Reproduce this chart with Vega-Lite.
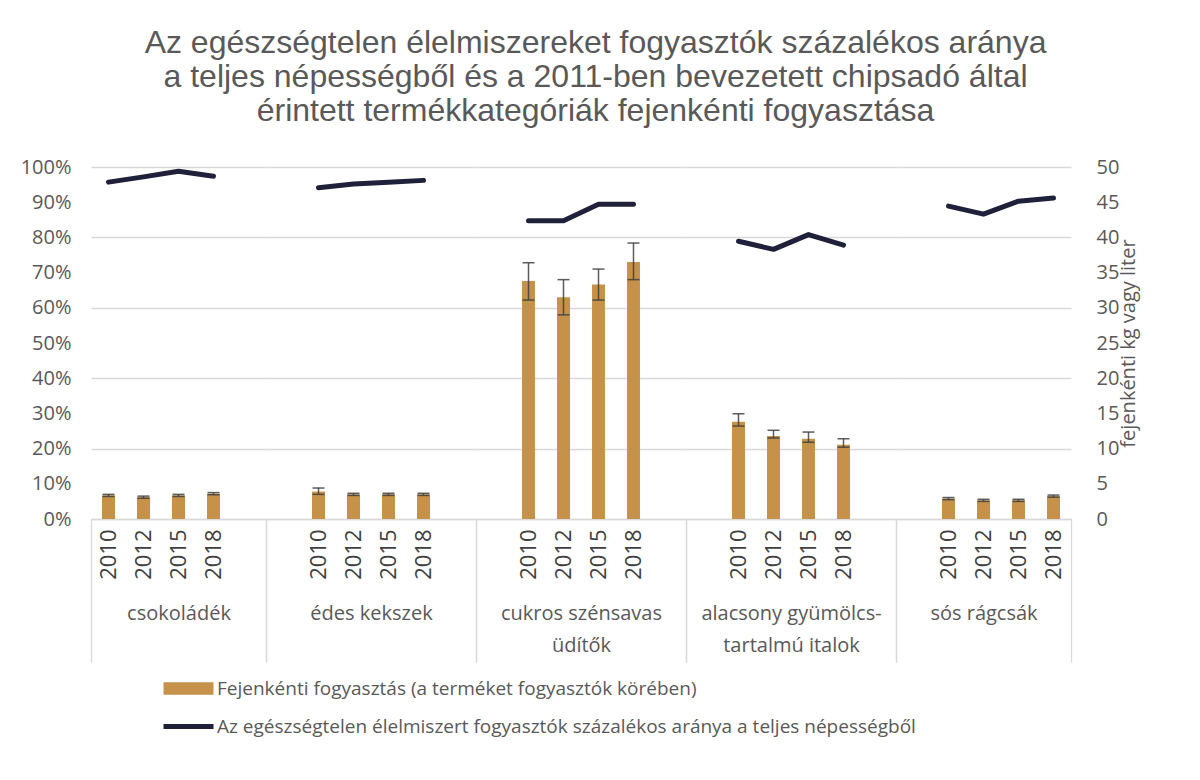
{
  "$schema": "https://vega.github.io/schema/vega-lite/v6.json",
  "background": "white",
  "padding": {"left": 20, "top": 27, "right": 10, "bottom": 10},
  "title": {
    "text": ["Az egészségtelen élelmiszereket fogyasztók százalékos aránya", "a teljes népességből és a 2011-ben bevezetett chipsadó által", "érintett termékkategóriák fejenkénti fogyasztása"],
    "font": "Liberation Sans", "fontSize": 32, "fontWeight": "normal", "color": "#595959", "lineHeight": 34, "anchor": "middle", "offset": 29, "dx": 16
  },
  "data": {"values": [
    {"group": "csokoládék", "year": "2010", "kg": 3.35, "lo": 3.2, "hi": 3.5, "pct": 0.957},
    {"group": "csokoládék", "year": "2012", "kg": 3.1, "lo": 2.95, "hi": 3.25, "pct": 0.972},
    {"group": "csokoládék", "year": "2015", "kg": 3.35, "lo": 3.2, "hi": 3.5, "pct": 0.988},
    {"group": "csokoládék", "year": "2018", "kg": 3.6, "lo": 3.45, "hi": 3.75, "pct": 0.974},
    {"group": "édes kekszek", "year": "2010", "kg": 3.9, "lo": 3.5, "hi": 4.4, "pct": 0.941},
    {"group": "édes kekszek", "year": "2012", "kg": 3.5, "lo": 3.35, "hi": 3.65, "pct": 0.952},
    {"group": "édes kekszek", "year": "2015", "kg": 3.5, "lo": 3.35, "hi": 3.65, "pct": 0.957},
    {"group": "édes kekszek", "year": "2018", "kg": 3.5, "lo": 3.35, "hi": 3.65, "pct": 0.962},
    {"group": "cukros szénsavas üdítők", "year": "2010", "kg": 33.8, "lo": 31.1, "hi": 36.4, "pct": 0.847},
    {"group": "cukros szénsavas üdítők", "year": "2012", "kg": 31.5, "lo": 29.0, "hi": 34.0, "pct": 0.847},
    {"group": "cukros szénsavas üdítők", "year": "2015", "kg": 33.3, "lo": 31.1, "hi": 35.5, "pct": 0.894},
    {"group": "cukros szénsavas üdítők", "year": "2018", "kg": 36.5, "lo": 34.0, "hi": 39.2, "pct": 0.894},
    {"group": "alacsony gyümölcstartalmú italok", "year": "2010", "kg": 13.8, "lo": 13.2, "hi": 14.95, "pct": 0.789},
    {"group": "alacsony gyümölcstartalmú italok", "year": "2012", "kg": 11.8, "lo": 11.5, "hi": 12.6, "pct": 0.766},
    {"group": "alacsony gyümölcstartalmú italok", "year": "2015", "kg": 11.4, "lo": 10.9, "hi": 12.35, "pct": 0.808},
    {"group": "alacsony gyümölcstartalmú italok", "year": "2018", "kg": 10.55, "lo": 10.2, "hi": 11.4, "pct": 0.778},
    {"group": "sós rágcsák", "year": "2010", "kg": 2.9, "lo": 2.75, "hi": 3.05, "pct": 0.889},
    {"group": "sós rágcsák", "year": "2012", "kg": 2.65, "lo": 2.5, "hi": 2.8, "pct": 0.866},
    {"group": "sós rágcsák", "year": "2015", "kg": 2.65, "lo": 2.5, "hi": 2.8, "pct": 0.903},
    {"group": "sós rágcsák", "year": "2018", "kg": 3.25, "lo": 3.1, "hi": 3.4, "pct": 0.912}
  ]},
  "spacing": 0,
  "bounds": "flush",
  "hconcat": [
    {
      "width": 175, "height": 352,
      "transform": [{"filter": "datum.group === 'csokoládék'"}],
      "encoding": {"x": {"field": "year", "type": "nominal", "scale": {"domain": ["2010", "2012", "2015", "2018", "b"], "paddingInner": 0, "paddingOuter": 0},
        "axis": {"title": "csokoládék", "labelExpr": "indexof(['a','b'], datum.value) >= 0 ? '' : datum.label", "labelAngle": 270, "labelAlign": "right", "labelBaseline": "middle", "labelPadding": -133, "labelFontSize": 22, "labelColor": "#404040", "tickBand": "extent", "tickSize": 143, "tickColor": "#D9D9D9", "tickWidth": 1.3, "tickOpacity": {"condition": {"test": "datum.extra || datum.value === 'b'", "value": 1}, "value": 0}, "domainColor": "#D9D9D9", "domainWidth": 1.3, "titleY": 84, "titleBaseline": "top", "titleFontSize": 20, "titleFontWeight": "normal", "titleColor": "#595959", "titleLineHeight": 32}}},
      "layer": [
        {"layer": [
          {"mark": {"type": "bar", "width": {"band": 0.37}}, "encoding": {"y": {"field": "kg", "type": "quantitative", "scale": {"domain": [0, 50], "nice": false}, "axis": {"orient": "right", "labels": false, "ticks": false, "domain": false, "title": null, "grid": true, "gridColor": "#D9D9D9", "gridWidth": 1.3, "values": [0, 5, 10, 15, 20, 25, 30, 35, 40, 45, 50]}},
            "color": {"datum": "Fejenkénti fogyasztás (a terméket fogyasztók körében)", "type": "nominal",
              "scale": {"domain": ["Fejenkénti fogyasztás (a terméket fogyasztók körében)", "Az egészségtelen élelmiszert fogyasztók százalékos aránya a teljes népességből"], "range": ["#C69149", "#1E2139"]},
              "legend": {"orient": "none", "legendX": 85, "legendY": 509, "direction": "vertical", "title": null, "padding": 0, "labelFont": "Open Sans", "labelFontSize": 19, "labelColor": "#595959", "labelLimit": 1200, "symbolSize": 625, "rowPadding": 15, "labelOffset": 16,
                "encode": {"symbols": {"update": {"shape": {"signal": "indexof(datum.value, 'Fejen') === 0 ? 'M-2,-0.5H2V0.5H-2Z' : 'M-2,-0.2H2V0.2H-2Z'"}, "fill": {"signal": "indexof(datum.value, 'Fejen') === 0 ? '#C69149' : '#1E2139'"}, "stroke": {"value": "transparent"}, "strokeWidth": {"value": 0}, "opacity": {"value": 1}}}}}}}},
          {"mark": {"type": "rule", "color": "#404040", "strokeWidth": 1.5, "opacity": 0.85}, "encoding": {"y": {"field": "lo", "type": "quantitative"}, "y2": {"field": "hi"}}},
          {"mark": {"type": "tick", "color": "#404040", "thickness": 1.5, "size": 12, "opacity": 0.85}, "encoding": {"y": {"field": "lo", "type": "quantitative"}}},
          {"mark": {"type": "tick", "color": "#404040", "thickness": 1.5, "size": 12, "opacity": 0.85}, "encoding": {"y": {"field": "hi", "type": "quantitative"}}}
        ]},
        {"mark": {"type": "line", "strokeWidth": 5, "strokeCap": "round", "strokeJoin": "round"},
          "encoding": {"y": {"field": "pct", "type": "quantitative", "scale": {"domain": [0, 1], "nice": false}, "axis": {"orient": "left", "format": ".0%", "values": [0, 0.1, 0.2, 0.3, 0.4, 0.5, 0.6, 0.7, 0.8, 0.9, 1], "grid": false, "ticks": false, "domain": false, "labelFontSize": 20, "labelColor": "#595959", "labelPadding": 20, "title": null}},
            "color": {"datum": "Az egészségtelen élelmiszert fogyasztók százalékos aránya a teljes népességből", "type": "nominal"}}}
      ],
      "resolve": {"scale": {"y": "independent"}}
    },
    {
      "width": 210, "height": 352,
      "transform": [{"filter": "datum.group === 'édes kekszek'"}],
      "encoding": {"x": {"field": "year", "type": "nominal", "scale": {"domain": ["a", "2010", "2012", "2015", "2018", "b"], "paddingInner": 0, "paddingOuter": 0},
        "axis": {"title": "édes kekszek", "labelExpr": "indexof(['a','b'], datum.value) >= 0 ? '' : datum.label", "labelAngle": 270, "labelAlign": "right", "labelBaseline": "middle", "labelPadding": -133, "labelFontSize": 22, "labelColor": "#404040", "tickBand": "extent", "tickSize": 143, "tickColor": "#D9D9D9", "tickWidth": 1.3, "tickOpacity": {"condition": {"test": "datum.extra || datum.value === 'b'", "value": 1}, "value": 0}, "domainColor": "#D9D9D9", "domainWidth": 1.3, "titleY": 84, "titleBaseline": "top", "titleFontSize": 20, "titleFontWeight": "normal", "titleColor": "#595959", "titleLineHeight": 32}}},
      "layer": [
        {"layer": [
          {"mark": {"type": "bar", "color": "#C69149", "width": {"band": 0.37}}, "encoding": {"y": {"field": "kg", "type": "quantitative", "scale": {"domain": [0, 50], "nice": false}, "axis": {"orient": "right", "labels": false, "ticks": false, "domain": false, "title": null, "grid": true, "gridColor": "#D9D9D9", "gridWidth": 1.3, "values": [0, 5, 10, 15, 20, 25, 30, 35, 40, 45, 50]}}}},
          {"mark": {"type": "rule", "color": "#404040", "strokeWidth": 1.5, "opacity": 0.85}, "encoding": {"y": {"field": "lo", "type": "quantitative"}, "y2": {"field": "hi"}}},
          {"mark": {"type": "tick", "color": "#404040", "thickness": 1.5, "size": 12, "opacity": 0.85}, "encoding": {"y": {"field": "lo", "type": "quantitative"}}},
          {"mark": {"type": "tick", "color": "#404040", "thickness": 1.5, "size": 12, "opacity": 0.85}, "encoding": {"y": {"field": "hi", "type": "quantitative"}}}
        ]},
        {"mark": {"type": "line", "color": "#1E2139", "strokeWidth": 5, "strokeCap": "round", "strokeJoin": "round"},
          "encoding": {"y": {"field": "pct", "type": "quantitative", "scale": {"domain": [0, 1], "nice": false}, "axis": null}}}
      ],
      "resolve": {"scale": {"y": "independent"}}
    },
    {
      "width": 210, "height": 352,
      "transform": [{"filter": "datum.group === 'cukros szénsavas üdítők'"}],
      "encoding": {"x": {"field": "year", "type": "nominal", "scale": {"domain": ["a", "2010", "2012", "2015", "2018", "b"], "paddingInner": 0, "paddingOuter": 0},
        "axis": {"title": ["cukros szénsavas", "üdítők"], "labelExpr": "indexof(['a','b'], datum.value) >= 0 ? '' : datum.label", "labelAngle": 270, "labelAlign": "right", "labelBaseline": "middle", "labelPadding": -133, "labelFontSize": 22, "labelColor": "#404040", "tickBand": "extent", "tickSize": 143, "tickColor": "#D9D9D9", "tickWidth": 1.3, "tickOpacity": {"condition": {"test": "datum.extra || datum.value === 'b'", "value": 1}, "value": 0}, "domainColor": "#D9D9D9", "domainWidth": 1.3, "titleY": 84, "titleBaseline": "top", "titleFontSize": 20, "titleFontWeight": "normal", "titleColor": "#595959", "titleLineHeight": 32}}},
      "layer": [
        {"layer": [
          {"mark": {"type": "bar", "color": "#C69149", "width": {"band": 0.37}}, "encoding": {"y": {"field": "kg", "type": "quantitative", "scale": {"domain": [0, 50], "nice": false}, "axis": {"orient": "right", "labels": false, "ticks": false, "domain": false, "title": null, "grid": true, "gridColor": "#D9D9D9", "gridWidth": 1.3, "values": [0, 5, 10, 15, 20, 25, 30, 35, 40, 45, 50]}}}},
          {"mark": {"type": "rule", "color": "#404040", "strokeWidth": 1.5, "opacity": 0.85}, "encoding": {"y": {"field": "lo", "type": "quantitative"}, "y2": {"field": "hi"}}},
          {"mark": {"type": "tick", "color": "#404040", "thickness": 1.5, "size": 12, "opacity": 0.85}, "encoding": {"y": {"field": "lo", "type": "quantitative"}}},
          {"mark": {"type": "tick", "color": "#404040", "thickness": 1.5, "size": 12, "opacity": 0.85}, "encoding": {"y": {"field": "hi", "type": "quantitative"}}}
        ]},
        {"mark": {"type": "line", "color": "#1E2139", "strokeWidth": 5, "strokeCap": "round", "strokeJoin": "round"},
          "encoding": {"y": {"field": "pct", "type": "quantitative", "scale": {"domain": [0, 1], "nice": false}, "axis": null}}}
      ],
      "resolve": {"scale": {"y": "independent"}}
    },
    {
      "width": 210, "height": 352,
      "transform": [{"filter": "datum.group === 'alacsony gyümölcstartalmú italok'"}],
      "encoding": {"x": {"field": "year", "type": "nominal", "scale": {"domain": ["a", "2010", "2012", "2015", "2018", "b"], "paddingInner": 0, "paddingOuter": 0},
        "axis": {"title": ["alacsony gyümölcs-", "tartalmú italok"], "labelExpr": "indexof(['a','b'], datum.value) >= 0 ? '' : datum.label", "labelAngle": 270, "labelAlign": "right", "labelBaseline": "middle", "labelPadding": -133, "labelFontSize": 22, "labelColor": "#404040", "tickBand": "extent", "tickSize": 143, "tickColor": "#D9D9D9", "tickWidth": 1.3, "tickOpacity": {"condition": {"test": "datum.extra || datum.value === 'b'", "value": 1}, "value": 0}, "domainColor": "#D9D9D9", "domainWidth": 1.3, "titleY": 84, "titleBaseline": "top", "titleFontSize": 20, "titleFontWeight": "normal", "titleColor": "#595959", "titleLineHeight": 32}}},
      "layer": [
        {"layer": [
          {"mark": {"type": "bar", "color": "#C69149", "width": {"band": 0.37}}, "encoding": {"y": {"field": "kg", "type": "quantitative", "scale": {"domain": [0, 50], "nice": false}, "axis": {"orient": "right", "labels": false, "ticks": false, "domain": false, "title": null, "grid": true, "gridColor": "#D9D9D9", "gridWidth": 1.3, "values": [0, 5, 10, 15, 20, 25, 30, 35, 40, 45, 50]}}}},
          {"mark": {"type": "rule", "color": "#404040", "strokeWidth": 1.5, "opacity": 0.85}, "encoding": {"y": {"field": "lo", "type": "quantitative"}, "y2": {"field": "hi"}}},
          {"mark": {"type": "tick", "color": "#404040", "thickness": 1.5, "size": 12, "opacity": 0.85}, "encoding": {"y": {"field": "lo", "type": "quantitative"}}},
          {"mark": {"type": "tick", "color": "#404040", "thickness": 1.5, "size": 12, "opacity": 0.85}, "encoding": {"y": {"field": "hi", "type": "quantitative"}}}
        ]},
        {"mark": {"type": "line", "color": "#1E2139", "strokeWidth": 5, "strokeCap": "round", "strokeJoin": "round"},
          "encoding": {"y": {"field": "pct", "type": "quantitative", "scale": {"domain": [0, 1], "nice": false}, "axis": null}}}
      ],
      "resolve": {"scale": {"y": "independent"}}
    },
    {
      "width": 175, "height": 352,
      "transform": [{"filter": "datum.group === 'sós rágcsák'"}],
      "encoding": {"x": {"field": "year", "type": "nominal", "scale": {"domain": ["a", "2010", "2012", "2015", "2018"], "paddingInner": 0, "paddingOuter": 0},
        "axis": {"title": "sós rágcsák", "labelExpr": "indexof(['a','b'], datum.value) >= 0 ? '' : datum.label", "labelAngle": 270, "labelAlign": "right", "labelBaseline": "middle", "labelPadding": -133, "labelFontSize": 22, "labelColor": "#404040", "tickBand": "extent", "tickSize": 143, "tickColor": "#D9D9D9", "tickWidth": 1.3, "tickOpacity": {"condition": {"test": "datum.extra || datum.value === '2018'", "value": 1}, "value": 0}, "domainColor": "#D9D9D9", "domainWidth": 1.3, "titleY": 84, "titleBaseline": "top", "titleFontSize": 20, "titleFontWeight": "normal", "titleColor": "#595959", "titleLineHeight": 32}}},
      "layer": [
        {"layer": [
          {"mark": {"type": "bar", "color": "#C69149", "width": {"band": 0.37}}, "encoding": {"y": {"field": "kg", "type": "quantitative", "scale": {"domain": [0, 50], "nice": false}, "axis": {"orient": "left", "labels": false, "ticks": false, "domain": false, "title": null, "grid": true, "gridColor": "#D9D9D9", "gridWidth": 1.3, "values": [0, 5, 10, 15, 20, 25, 30, 35, 40, 45, 50]}}}},
          {"mark": {"type": "rule", "color": "#404040", "strokeWidth": 1.5, "opacity": 0.85}, "encoding": {"y": {"field": "lo", "type": "quantitative"}, "y2": {"field": "hi"}}},
          {"mark": {"type": "tick", "color": "#404040", "thickness": 1.5, "size": 12, "opacity": 0.85}, "encoding": {"y": {"field": "lo", "type": "quantitative"}}},
          {"mark": {"type": "tick", "color": "#404040", "thickness": 1.5, "size": 12, "opacity": 0.85}, "encoding": {"y": {"field": "hi", "type": "quantitative"}}}
        ]},
        {"mark": {"type": "line", "color": "#1E2139", "strokeWidth": 5, "strokeCap": "round", "strokeJoin": "round"},
          "encoding": {"y": {"field": "pct", "type": "quantitative", "scale": {"domain": [0, 1], "nice": false}, "axis": {"orient": "right", "values": [0, 0.1, 0.2, 0.3, 0.4, 0.5, 0.6, 0.7, 0.8, 0.9, 1], "labelExpr": "format(datum.value * 50, 'd')", "labelOverlap": false, "grid": false, "ticks": false, "domain": false, "labelFontSize": 20, "labelColor": "#595959", "labelPadding": 25, "title": "fejenkénti kg vagy liter", "titleAngle": 270, "titleFontSize": 20, "titleFontWeight": "normal", "titleColor": "#595959", "titlePadding": 20}}}}
      ],
      "resolve": {"scale": {"y": "independent"}}
    }
  ],
  "config": {
    "view": {"stroke": null},
    "font": "Open Sans",
    "axis": {"labelFont": "Open Sans", "titleFont": "Open Sans"}
  }
}
